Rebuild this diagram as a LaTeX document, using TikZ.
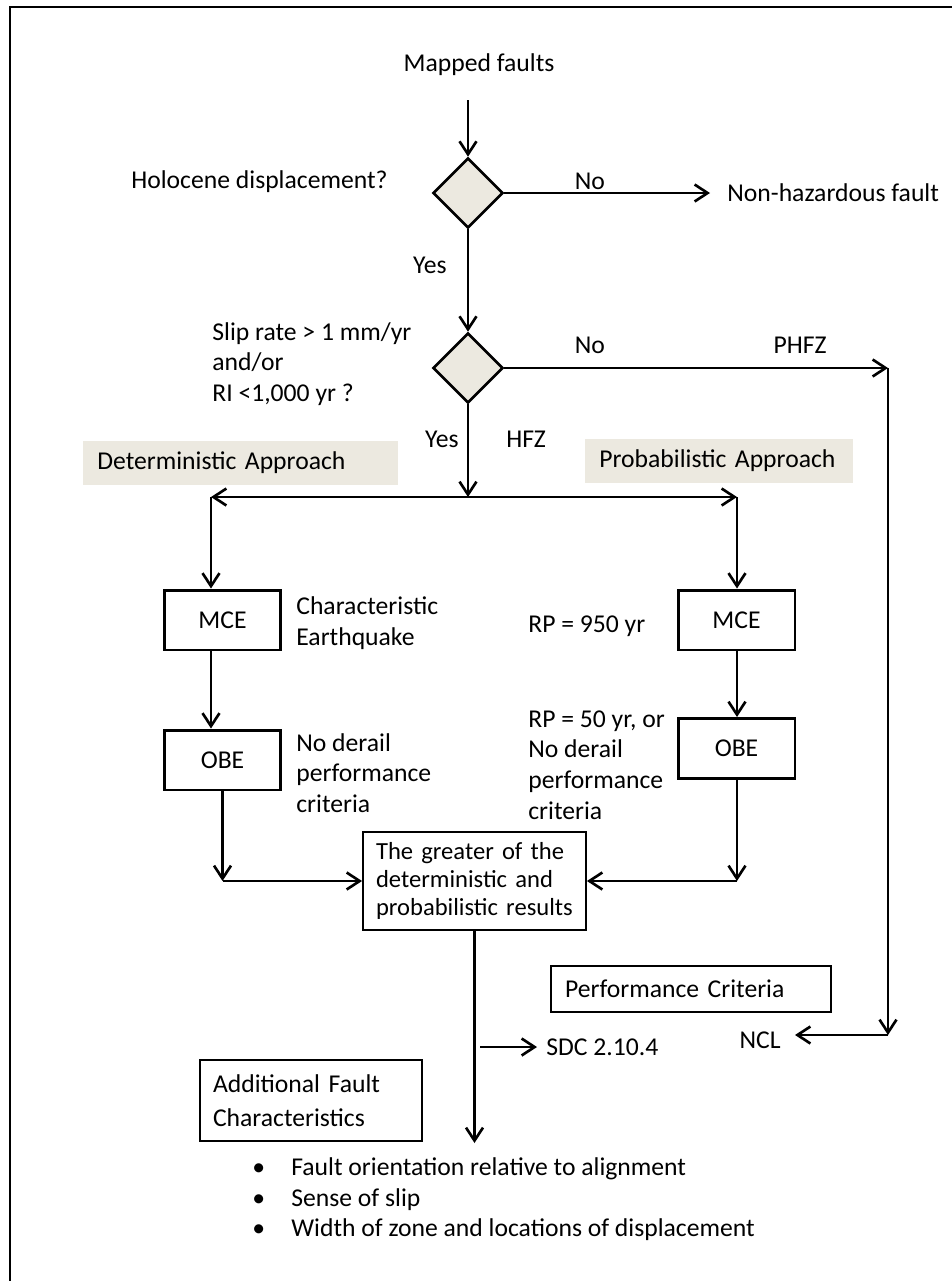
\documentclass[tikz,border=0pt]{standalone}
\usepackage{fontspec}
\setmainfont{Carlito}
\usepackage{tikz}
\usetikzlibrary{shapes.geometric,arrows.meta}
\definecolor{sand}{RGB}{236,233,224}

\begin{document}
\begin{tikzpicture}[x=0.02cm, y=-0.02cm,
  font=\fontsize{14.6}{17.5}\selectfont,
  arr/.style={line width=1.5pt, -{Straight Barb[length=0.26cm,width=0.34cm]}},
  decision/.style={diamond, draw, line width=1.5pt, fill=sand, aspect=1,
    minimum size=1.4cm, inner sep=0pt},
  eqbox/.style={draw, line width=1.7pt, minimum width=2.34cm,
    minimum height=1.2cm, inner sep=0pt},
  notebox/.style={draw, line width=1.1pt, align=left, inner xsep=0.26cm},
  approach/.style={fill=sand, anchor=west, align=left, inner xsep=0.28cm,
    minimum height=0.88cm},
  lbl/.style={inner sep=0pt, anchor=west, align=left},
  edgelbl/.style={inner sep=0pt}]

  \useasboundingbox (0,0) rectangle (952,1281);

  % Page frame
  \draw[line width=1.5pt] (10,1281) -- (10,7) -- (952,7);

  % Screening of mapped faults
  \node[edgelbl] (mapped) at (479,65) {Mapped faults};
  \coordinate (start) at (468,100);
  \node[decision] (d1) at (468,193) {};
  \node[decision] (d2) at (468,368) {};

  \node[lbl] (holo) at (131,182) {Holocene displacement?};
  \node[lbl] (nonhaz) at (727,193) {Non-hazardous fault};
  \node[lbl] (sliprate) at (212,364) {Slip rate > 1 mm/yr\\and/or\\RI <1,000 yr ?};

  \draw[arr] (start) -- (d1.north);
  \draw[arr, shorten >=0.34cm] (d1.east) --
    node[edgelbl, above=0.04cm, pos=0.384] {No} (nonhaz.west);
  \draw[arr] (d1.south) --
    node[edgelbl, left=0.4cm, pos=0.35] {Yes} (d2.north);

  % Potentially hazardous branch
  \coordinate (pcorner) at (888,368);
  \coordinate (ncorner) at (888,1035);
  \node[lbl, anchor=east] (ncl) at (781,1040) {NCL};

  \draw[arr] (d2.east) --
    node[edgelbl, above=0.26cm, pos=0.223] {No}
    node[edgelbl, above=0.26cm, pos=0.771] {PHFZ} (pcorner);
  \draw[arr] (pcorner) -- (ncorner);
  \draw[arr, shorten >=0.28cm] (ncorner) -- (ncorner -| ncl.east);

  % Hazardous fault zone: two approaches
  \coordinate (split) at (468,497);
  \coordinate (detsplit) at (211,497);
  \coordinate (prosplit) at (737,497);

  \node[approach, text width=5.74cm] (detapp) at (83,463) {Deterministic Approach};
  \node[approach, text width=4.80cm] (proapp) at (585,461) {Probabilistic Approach};

  \draw[arr] (d2.south) --
    node[edgelbl, left=0.16cm, pos=0.38] {Yes}
    node[edgelbl, right=0.74cm, pos=0.38] {HFZ} (split);
  \draw[arr] (split) -- (detsplit);
  \draw[arr] (split) -- (prosplit);

  \node[eqbox] (mceL) at (222.5,620) {MCE};
  \node[eqbox] (mceR) at (736.5,620) {MCE};
  \node[eqbox] (obeL) at (222.5,760) {OBE};
  \node[eqbox] (obeR) at (736.5,748.5) {OBE};

  \node[lbl] (chareq) at (296,623) {Characteristic\\Earthquake};
  \node[lbl] (derailL) at (296,773) {No derail\\performance\\criteria};
  \node[lbl] (rp950) at (528,626) {RP = 950 yr};
  \node[lbl] (rp50) at (528,765) {RP = 50 yr, or\\No derail\\performance\\criteria};

  \draw[arr] (detsplit) -- (detsplit |- mceL.north);
  \draw[arr] (prosplit) -- (prosplit |- mceR.north);
  \draw[arr] (detsplit |- mceL.south) -- (detsplit |- obeL.north);
  \draw[arr] (prosplit |- mceR.south) -- (prosplit |- obeR.north);

  % Combined result
  \node[notebox, text width=3.94cm, minimum height=1.96cm,
    font=\fontsize{14}{16}\selectfont] (greater) at (474.5,881)
    {The greater of the\\deterministic and\\probabilistic results};

  \draw[arr] (obeL.south) -- (obeL.south |- greater.west);
  \draw[arr] (obeL.south |- greater.west) -- (greater.west);
  \draw[arr] (prosplit |- obeR.south) -- (prosplit |- greater.east);
  \draw[arr] (prosplit |- greater.east) -- (greater.east);

  % Criteria and fault characteristics
  \coordinate (listtop) at (475,1143);
  \coordinate (sdcfrom) at (480,1047);
  \node[lbl] (sdc) at (546,1047) {SDC 2.10.4};
  \node[notebox, inner xsep=0.28cm, text width=5.04cm, minimum height=0.92cm]
    (perf) at (691,989) {Performance Criteria};
  \node[notebox, text width=3.92cm, minimum height=1.62cm]
    (addl) at (311,1100.5) {Additional Fault\\[2pt]Characteristics};

  \draw[arr] (greater.south) -- (greater.south |- listtop);
  \draw[arr, shorten >=0.18cm] (sdcfrom) -- (sdc.west);

  \node[lbl] (traits) at (252,1200) {\begin{tabular}{@{}p{0.78cm}@{}l@{}}
    \textbullet & Fault orientation relative to alignment\\
    \textbullet & Sense of slip\\
    \textbullet & Width of zone and locations of displacement
  \end{tabular}};
\end{tikzpicture}
\end{document}
